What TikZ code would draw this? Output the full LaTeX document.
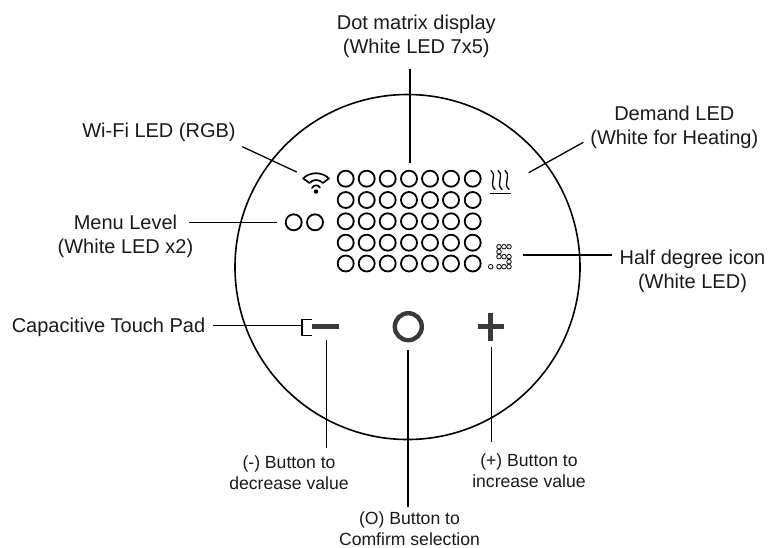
\documentclass[tikz,border=0pt]{standalone}
\usepackage{fontspec}
\setmainfont{Liberation Sans}
\definecolor{btn}{HTML}{3A3A3A}
\definecolor{ink}{HTML}{1A1A1A}
\tikzset{
  lab/.style={align=center,inner sep=0pt,text=ink,font=\fontsize{20}{24.3}\selectfont},
  small/.style={align=center,inner sep=0pt,text=ink,font=\fontsize{17.6}{21}\selectfont},
  conn/.style={draw=black,line width=1.3pt},
  led/.style={circle,draw=black,line width=1.8pt,minimum size=16pt,inner sep=0pt},
  tiny/.style={circle,draw=black,line width=.8pt,minimum size=4.6pt,inner sep=0pt},
  icon/.style={draw=black,line width=1.7pt,line cap=round,line join=round},
}
\begin{document}
\begin{tikzpicture}[x=1pt,y=-1pt]
\useasboundingbox (0,0) rectangle (770,547);
% housing
\node[circle,draw=black,line width=1.6pt,minimum size=345pt,inner sep=0pt] (body) at (407.5,267) {};
% LED matrix
\foreach \r/\y in {1/178.7,2/200,3/221.3,4/242.7,5/263.5}
  \foreach \c/\x in {1/345.7,2/366.7,3/387.7,4/409,5/430,6/451,7/472.7}
    \node[led] (m\r\c) at (\x,\y) {};
\node[led] (menuA) at (293.7,222.3) {};
\node[led] (menuB) at (315,222.3) {};
% wifi icon
\draw[icon] (303,178.5) .. controls (310,171.5) and (322,171.5) .. (329,178.5)
  .. controls (327,180) and (325,181) .. (323,183)
  .. controls (319,179) and (313,179) .. (309.5,183)
  .. controls (307.5,181) and (305,180) .. (303,178.5);
\draw[icon] (312,188) .. controls (314,184.5) and (318,184.5) .. (320,187.5);
\fill[black] (316,191.5) circle (2.2pt);
% heating icon
\foreach \x in {493,500,507}
  \draw[icon,line width=1.3pt] (\x-2,170.5) .. controls (\x+5,177) and (\x-5,183) .. (\x+2,189.5);
\draw[black,line width=1.1pt] (489.5,193.5) -- (511,193.5);
% half degree icon
\foreach \x/\y [count=\i] in {499/246.7,504/246.7,509/246.7,499/251.7,499/256.7,504/256.7,509/256.7,509/261.7,490.7/266.7,499/266.7,504/266.7,509/266.7}
  \node[tiny] (hd\i) at (\x,\y) {};
% buttons
\fill[btn] (312.3,324) rectangle (339,329.4);
\node[circle,draw=btn,line width=4.4pt,minimum size=27pt,inner sep=0pt] (okbtn) at (408.3,326.7) {};
\fill[btn] (477.7,324.4) rectangle (504,329);
\fill[btn] (488.4,313) rectangle (493,340.7);
% touch pad bracket
\draw[black,line width=1.2pt] (312,319.7) -- (302,319.7) -- (302,335.3) -- (312,335.3);
\coordinate (pad) at (302,325.7);
% labels
\node[lab] (tDot) at (416.3,36.2) {Dot matrix display\\(White LED 7x5)};
\node[lab] (tWifi) at (159,132.7) {Wi-Fi LED (RGB)};
\node[lab] (tDem) at (674.3,127) {Demand LED\\(White for Heating)};
\node[lab] (tMenu) at (125.5,236) {Menu Level\\(White LED x2)};
\node[lab] (tHalf) at (692.5,271.5) {Half degree icon\\(White LED)};
\node[lab] (tCap) at (108.5,327) {Capacitive Touch Pad};
\node[small] (tMin) at (289,472.2) {(-) Button to\\decrease value};
\node[small] (tPlus) at (529,470.7) {(+) Button to\\increase value};
\node[small] (tOk) at (409.5,528.8) {(O) Button to\\Comfirm selection};
% connectors
\coordinate (eDot) at (410,69.3);
\coordinate (eDotH) at (410,162.7);
\coordinate (eWifiT) at (242.3,146.7);
\coordinate (eWifiH) at (296.7,172);
\coordinate (eDemT) at (583.3,142.3);
\coordinate (eDemH) at (528.7,172.7);
\coordinate (eHalfH) at (523,255);
\coordinate (eHalfT) at (612.3,255);
\coordinate (eMenuT) at (189,222.7);
\coordinate (eMenuH) at (277,222.7);
\coordinate (eCapT) at (213,325.7);
\coordinate (eMinA) at (326.7,340);
\coordinate (eMinB) at (326.7,447.7);
\coordinate (eOkA) at (408,350);
\coordinate (eOkB) at (408,507.3);
\coordinate (ePlA) at (491.7,347);
\coordinate (ePlB) at (491.7,441.7);
\draw[conn] (eDot) -- (eDotH);
\draw[conn] (eWifiT) -- (eWifiH);
\draw[conn] (eDemT) -- (eDemH);
\draw[conn] (eHalfH) -- (eHalfT);
\draw[conn] (eMenuT) -- (eMenuH);
\draw[conn] (eCapT) -- (pad);
\draw[conn] (eMinA) -- (eMinB);
\draw[conn] (eOkA) -- (eOkB);
\draw[conn] (ePlA) -- (ePlB);
\end{tikzpicture}
\end{document}
